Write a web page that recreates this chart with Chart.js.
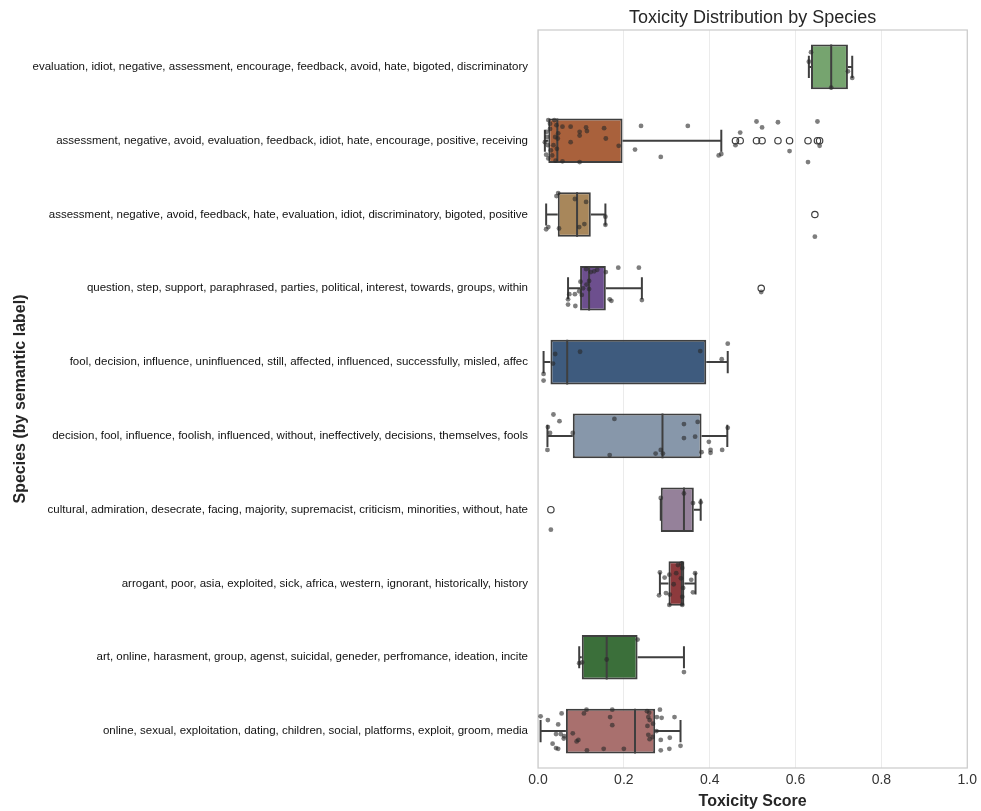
<!DOCTYPE html>
<html>
<head>
<meta charset="utf-8">
<script src="https://cdn.jsdelivr.net/npm/chart.js@4.4.1/dist/chart.umd.min.js"></script>
<style>
  html, body { margin:0; padding:0; background:#fff; }
  #wrap { width:981px; height:811px; }
</style>
</head>
<body>
<div id="wrap"><canvas id="chart" width="981" height="811"></canvas></div>
<script>
const categories = [
    'evaluation, idiot, negative, assessment, encourage, feedback, avoid, hate, bigoted, discriminatory',
    'assessment, negative, avoid, evaluation, feedback, idiot, hate, encourage, positive, receiving',
    'assessment, negative, avoid, feedback, hate, evaluation, idiot, discriminatory, bigoted, positive',
    'question, step, support, paraphrased, parties, political, interest, towards, groups, within',
    'fool, decision, influence, uninfluenced, still, affected, influenced, successfully, misled, affec',
    'decision, fool, influence, foolish, influenced, without, ineffectively, decisions, themselves, fools',
    'cultural, admiration, desecrate, facing, majority, supremacist, criticism, minorities, without, hate',
    'arrogant, poor, asia, exploited, sick, africa, western, ignorant, historically, history',
    'art, online, harasment, group, agenst, suicidal, geneder, perfromance, ideation, incite',
    'online, sexual, exploitation, dating, children, social, platforms, exploit, groom, media'
];
const boxColors = ['#76a46f','#a9613c','#a8875b','#6d4f8e','#3e5b7e','#8797aa','#95819a','#8d3a3d','#3b6f3a','#a9706e'];

const q1          = [0.636, 0.024, 0.046, 0.098, 0.029, 0.081, 0.286, 0.304, 0.102, 0.065];
const medians     = [0.683, 0.045, 0.091, 0.119, 0.068, 0.290, 0.340, 0.335, 0.160, 0.226];
const q3          = [0.722, 0.197, 0.123, 0.158, 0.392, 0.381, 0.363, 0.341, 0.232, 0.273];
const whiskerLow  = [0.631, 0.016, 0.019, 0.070, 0.013, 0.022, 0.286, 0.284, 0.096, 0.006];
const whiskerHigh = [0.732, 0.427, 0.157, 0.242, 0.442, 0.441, 0.379, 0.367, 0.340, 0.332];

const outliers = [
    [],
    [0.460, 0.471, 0.509, 0.522, 0.559, 0.586, 0.629, 0.651, 0.656],
    [0.645],
    [0.520],
    [], [],
    [0.030],
    [], [], []
];

// strip points: score and vertical jitter (in category units)
const stripScores = [
    [0.636, 0.631, 0.683, 0.722, 0.732],
    [0.240, 0.226, 0.286, 0.349, 0.421, 0.427, 0.471, 0.460, 0.509, 0.522, 0.559, 0.586, 0.629, 0.651, 0.656,
     0.057, 0.076, 0.112, 0.114, 0.097, 0.097, 0.154, 0.158, 0.076, 0.188, 0.057, 0.097, 0.038, 0.043, 0.047,
     0.046, 0.044, 0.024, 0.028, 0.020, 0.016, 0.023, 0.030, 0.019, 0.024, 0.036, 0.040, 0.028, 0.033, 0.041, 0.021],
    [0.047, 0.043, 0.086, 0.112, 0.049, 0.096, 0.108, 0.019, 0.024, 0.157, 0.157, 0.645],
    [0.112, 0.123, 0.131, 0.138, 0.158, 0.187, 0.235, 0.099, 0.119, 0.119, 0.105, 0.096, 0.102, 0.086, 0.073,
     0.070, 0.070, 0.087, 0.167, 0.171, 0.242, 0.113, 0.520],
    [0.040, 0.035, 0.013, 0.013, 0.098, 0.378, 0.428, 0.442],
    [0.036, 0.050, 0.023, 0.028, 0.022, 0.081, 0.178, 0.167, 0.274, 0.286, 0.291, 0.340, 0.340, 0.372, 0.366,
     0.381, 0.398, 0.402, 0.402, 0.429, 0.442],
    [0.286, 0.340, 0.361, 0.379, 0.030],
    [0.284, 0.295, 0.282, 0.298, 0.306, 0.316, 0.306, 0.322, 0.334, 0.336, 0.333, 0.338, 0.336, 0.336, 0.357,
     0.361, 0.366, 0.326, 0.307],
    [0.232, 0.160, 0.096, 0.103, 0.340],
    [0.006, 0.023, 0.055, 0.047, 0.042, 0.053, 0.061, 0.060, 0.034, 0.042, 0.047, 0.081, 0.090, 0.094, 0.113,
     0.107, 0.114, 0.153, 0.173, 0.168, 0.173, 0.200, 0.254, 0.259, 0.257, 0.260, 0.255, 0.268, 0.257, 0.267,
     0.260, 0.284, 0.277, 0.288, 0.276, 0.286, 0.286, 0.307, 0.306, 0.318, 0.332]
];
const stripJitter = [
    [-0.20, -0.07, 0.28, 0.06, 0.15],
    [-0.20, 0.12, 0.22, -0.20, 0.20, 0.18, -0.11, 0.06, -0.26, -0.18, -0.25, 0.14, 0.29, -0.26, 0.07,
     -0.19, -0.19, -0.18, -0.13, -0.12, -0.07, -0.17, -0.03, 0.02, 0.07, 0.28, 0.29, -0.28, -0.21, -0.10,
     -0.03, 0.11, -0.28, -0.23, -0.12, 0.02, 0.06, 0.13, 0.19, 0.24, 0.06, -0.05, -0.16, 0.20, 0.27, -0.05],
    [-0.29, -0.25, -0.21, -0.17, 0.19, 0.17, 0.13, 0.20, 0.17, 0.03, 0.14, 0.30],
    [-0.26, -0.22, -0.23, -0.25, -0.22, -0.28, -0.28, -0.09, -0.10, 0.01, 0.00, 0.04, 0.09, 0.08, 0.08,
     0.15, 0.22, 0.24, 0.15, 0.17, 0.16, -0.05, 0.05],
    [-0.11, 0.02, 0.16, 0.25, -0.14, -0.15, -0.04, -0.25],
    [-0.29, -0.20, -0.12, -0.04, 0.19, -0.04, -0.23, 0.26, 0.24, 0.19, 0.24, -0.16, 0.03, -0.19, 0.01,
     0.22, 0.08, 0.19, 0.23, 0.19, -0.11],
    [-0.16, -0.22, -0.09, -0.10, 0.27],
    [-0.15, -0.08, 0.16, 0.13, -0.12, 0.01, 0.29, -0.14, -0.27, -0.21, -0.07, 0.06, 0.18, 0.29, -0.05,
     0.12, -0.14, -0.25, 0.15],
    [-0.24, 0.03, 0.08, 0.07, 0.20],
    [-0.20, -0.15, -0.24, -0.09, 0.04, 0.04, 0.07, 0.10, 0.17, 0.23, 0.24, 0.03, 0.14, 0.12, -0.29,
     -0.24, 0.26, 0.24, -0.29, -0.19, -0.08, 0.24, -0.27, -0.25, -0.19, -0.15, -0.07, -0.10, 0.05, 0.08,
     0.11, -0.29, -0.19, -0.18, 0.00, 0.12, 0.26, 0.09, 0.24, -0.19, 0.20]
];

const xTicks = [0, 0.2, 0.4, 0.6, 0.8, 1.0];
const chartTitle = 'Toxicity Distribution by Species';

const FONT = "'Liberation Sans', Arial, Helvetica, sans-serif";
const EDGE = '#3f3f3f';
const BOX_PCT = 0.605;     // box height as share of a category band
const CAP_HALF = 0.15;     // half length of whisker caps

// box rectangles as floating bars
const boxData = categories.map((_, i) => ({ y: i, x: [q1[i], q3[i]] }));

// whiskers, caps and medians as one broken line
const gap = { x: null, y: null };
const lineData = [];
categories.forEach((_, i) => {
    const h = BOX_PCT / 2;
    lineData.push({ x: whiskerLow[i], y: i }, { x: q1[i], y: i }, gap);
    lineData.push({ x: q3[i], y: i }, { x: whiskerHigh[i], y: i }, gap);
    lineData.push({ x: whiskerLow[i], y: i - CAP_HALF }, { x: whiskerLow[i], y: i + CAP_HALF }, gap);
    lineData.push({ x: whiskerHigh[i], y: i - CAP_HALF }, { x: whiskerHigh[i], y: i + CAP_HALF }, gap);
    lineData.push({ x: medians[i], y: i - h }, { x: medians[i], y: i + h }, gap);
});

const outlierData = [];
outliers.forEach((vals, i) => vals.forEach(v => outlierData.push({ x: v, y: i })));

const stripData = [];
stripScores.forEach((vals, i) => vals.forEach((v, j) => stripData.push({ x: v, y: i + stripJitter[i][j] })));

// light frame round the plot and the title centred over the plot area
const framePlugin = {
    id: 'frame',
    beforeDatasetsDraw(chart) {
        const { ctx, chartArea: a } = chart;
        ctx.save();
        ctx.strokeStyle = '#cccccc';
        ctx.lineWidth = 1.25;
        ctx.strokeRect(a.left, a.top, a.right - a.left, a.bottom - a.top);
        ctx.fillStyle = '#262626';
        ctx.font = `18px ${FONT}`;
        ctx.textAlign = 'center';
        ctx.textBaseline = 'middle';
        ctx.fillText(chartTitle, (a.left + a.right) / 2, a.top - 12);
        ctx.restore();
    }
};

new Chart(document.getElementById('chart').getContext('2d'), {
    type: 'bar',
    data: {
        datasets: [
            {
                type: 'scatter', label: 'points', data: stripData, order: 0,
                pointRadius: 2.4, pointBackgroundColor: 'rgba(40,40,40,0.6)', pointBorderWidth: 0
            },
            {
                type: 'scatter', label: 'outliers', data: outlierData, order: 1,
                pointRadius: 3.2, pointBackgroundColor: 'rgba(0,0,0,0)', pointBorderColor: EDGE, pointBorderWidth: 1.2
            },
            {
                type: 'line', label: 'whiskers', data: lineData, order: 2,
                borderColor: EDGE, borderWidth: 2, pointRadius: 0, spanGaps: false, tension: 0, fill: false
            },
            {
                type: 'bar', label: 'boxes', data: boxData, order: 3, indexAxis: 'y',
                backgroundColor: boxColors, borderColor: EDGE, borderWidth: 2, borderSkipped: false,
                categoryPercentage: 1, barPercentage: BOX_PCT, grouped: false
            }
        ]
    },
    options: {
        responsive: false,
        animation: false,
        layout: { padding: { left: 8, right: 13, top: 30, bottom: 0 } },
        plugins: {
            legend: { display: false },
            tooltip: { enabled: false },
            title: { display: false }
        },
        scales: {
            x: {
                type: 'linear', min: 0, max: 1, offset: false,
                afterBuildTicks: axis => { axis.ticks = xTicks.map(v => ({ value: v })); },
                afterFit: axis => { axis.height = 43; },
                ticks: { callback: v => Number(v).toFixed(1), color: '#333', padding: 4, font: { family: FONT, size: 14 } },
                grid: { color: '#ebebeb', lineWidth: 1, drawTicks: false, offset: false },
                border: { display: false },
                title: { display: true, text: 'Toxicity Score', color: '#262626', padding: { top: 4, bottom: 0 },
                         font: { family: FONT, size: 16, weight: 'bold' } }
            },
            y: {
                type: 'linear', min: -0.5, max: 9.5, reverse: true, offset: false,
                afterBuildTicks: axis => { axis.ticks = categories.map((_, i) => ({ value: i })); },
                afterFit: axis => { axis.width = 530; },
                ticks: { callback: v => categories[v], color: '#111', padding: 10, font: { family: FONT, size: 11.5 } },
                grid: { display: false, drawTicks: false, offset: false },
                border: { display: false },
                title: { display: true, text: 'Species (by semantic label)', color: '#262626', padding: { top: 3, bottom: 0 },
                         font: { family: FONT, size: 16, weight: 'bold' } }
            }
        }
    },
    plugins: [framePlugin]
});
</script>
</body>
</html>
